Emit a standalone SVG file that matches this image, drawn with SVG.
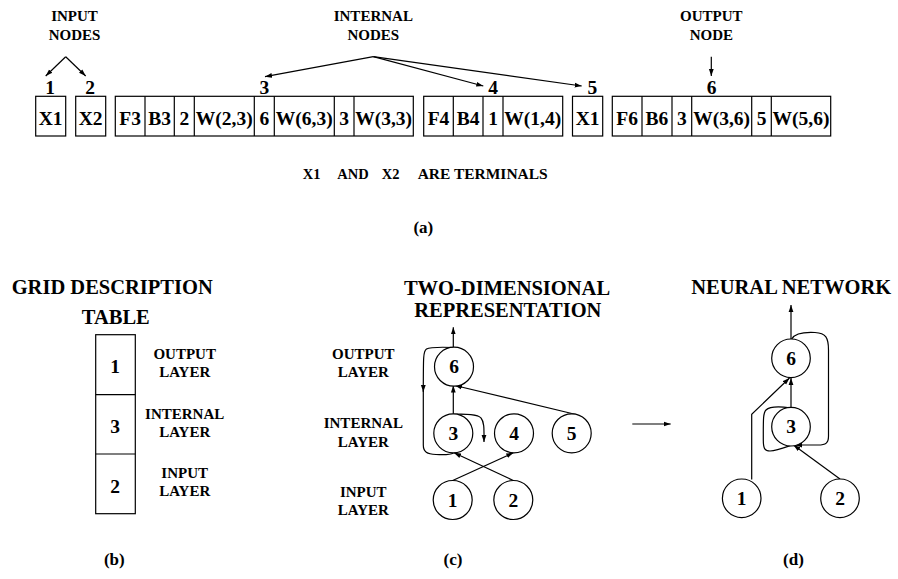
<svg xmlns="http://www.w3.org/2000/svg" width="898" height="579" viewBox="0 0 898 579">
  <style>
    text { font-family: "Liberation Serif", "Times New Roman", serif; font-weight: bold; fill: #000; text-anchor: middle; }
    .cell { font-size: 19.5px; }
    .lbl { font-size: 15px; }
    .head { font-size: 20.5px; }
    .cap { font-size: 17px; }
    .note { font-size: 14.5px; text-anchor: start; }
    rect.box, circle { fill: #fff; stroke: #000; stroke-width: 1.2; }
    line.sep { stroke: #000; stroke-width: 1.2; }
    .wire { fill: none; stroke: #000; stroke-width: 1.2; }
  </style>
  <defs>
    <marker id="ah" markerUnits="userSpaceOnUse" markerWidth="8" markerHeight="6" refX="7" refY="3" orient="auto">
      <path d="M0,0.6 L7,3 L0,5.4 z" fill="#000"/>
    </marker>
  </defs>

  <rect width="898" height="579" fill="#fff"/>

  <!-- (a) linear chromosome encoding -->
  <g id="input-nodes-label">
    <text class="lbl" x="74.5" y="21">INPUT</text>
    <text class="lbl" x="74.5" y="39.5">NODES</text>
  </g>
  <g id="internal-nodes-label">
    <text class="lbl" x="373.3" y="21">INTERNAL</text>
    <text class="lbl" x="373.3" y="39.5">NODES</text>
  </g>
  <g id="output-node-label">
    <text class="lbl" x="711.3" y="21">OUTPUT</text>
    <text class="lbl" x="711.3" y="39.5">NODE</text>
  </g>

  <g id="node-1">
    <text class="cell" x="50" y="94">1</text>
    <rect class="box" x="35.7" y="96.3" width="30" height="39.7"/>
    <text class="cell" x="50.7" y="125">X1</text>
  </g>
  <g id="node-2">
    <text class="cell" x="90" y="94">2</text>
    <rect class="box" x="75.7" y="96.3" width="30" height="39.7"/>
    <text class="cell" x="90.7" y="125">X2</text>
  </g>
  <g id="node-3">
    <text class="cell" x="264.3" y="94">3</text>
    <rect class="box" x="115.3" y="96.3" width="298" height="39.7"/>
    <line class="sep" x1="145" y1="96.3" x2="145" y2="136"/>
    <line class="sep" x1="174.3" y1="96.3" x2="174.3" y2="136"/>
    <line class="sep" x1="194.3" y1="96.3" x2="194.3" y2="136"/>
    <line class="sep" x1="254.3" y1="96.3" x2="254.3" y2="136"/>
    <line class="sep" x1="274.3" y1="96.3" x2="274.3" y2="136"/>
    <line class="sep" x1="334.3" y1="96.3" x2="334.3" y2="136"/>
    <line class="sep" x1="354" y1="96.3" x2="354" y2="136"/>
    <text class="cell" x="130.2" y="125">F3</text>
    <text class="cell" x="159.7" y="125">B3</text>
    <text class="cell" x="184.3" y="125">2</text>
    <text class="cell" x="224.3" y="125">W(2,3)</text>
    <text class="cell" x="264.3" y="125">6</text>
    <text class="cell" x="304.3" y="125">W(6,3)</text>
    <text class="cell" x="344.2" y="125">3</text>
    <text class="cell" x="383.7" y="125">W(3,3)</text>
  </g>
  <g id="node-4">
    <text class="cell" x="493" y="94">4</text>
    <rect class="box" x="423.7" y="96.3" width="139" height="39.7"/>
    <line class="sep" x1="453.3" y1="96.3" x2="453.3" y2="136"/>
    <line class="sep" x1="483" y1="96.3" x2="483" y2="136"/>
    <line class="sep" x1="503" y1="96.3" x2="503" y2="136"/>
    <text class="cell" x="438.5" y="125">F4</text>
    <text class="cell" x="468.2" y="125">B4</text>
    <text class="cell" x="493" y="125">1</text>
    <text class="cell" x="532.8" y="125">W(1,4)</text>
  </g>
  <g id="node-5">
    <text class="cell" x="592.3" y="94">5</text>
    <rect class="box" x="572.5" y="96.3" width="30.2" height="39.7"/>
    <text class="cell" x="587.6" y="125">X1</text>
  </g>
  <g id="node-6">
    <text class="cell" x="711.7" y="94">6</text>
    <rect class="box" x="612.3" y="96.3" width="218.4" height="39.7"/>
    <line class="sep" x1="642" y1="96.3" x2="642" y2="136"/>
    <line class="sep" x1="672" y1="96.3" x2="672" y2="136"/>
    <line class="sep" x1="691.7" y1="96.3" x2="691.7" y2="136"/>
    <line class="sep" x1="751.7" y1="96.3" x2="751.7" y2="136"/>
    <line class="sep" x1="771.3" y1="96.3" x2="771.3" y2="136"/>
    <text class="cell" x="627.2" y="125">F6</text>
    <text class="cell" x="657" y="125">B6</text>
    <text class="cell" x="681.9" y="125">3</text>
    <text class="cell" x="721.7" y="125">W(3,6)</text>
    <text class="cell" x="761.5" y="125">5</text>
    <text class="cell" x="801" y="125">W(5,6)</text>
  </g>

  <g id="label-arrows">
    <line class="wire" x1="65.7" y1="56.7" x2="45.7" y2="76" marker-end="url(#ah)"/>
    <line class="wire" x1="65.7" y1="56.7" x2="85.7" y2="76" marker-end="url(#ah)"/>
    <line class="wire" x1="373.3" y1="56.7" x2="265" y2="76.7" marker-end="url(#ah)"/>
    <line class="wire" x1="373.3" y1="56.7" x2="483.3" y2="86" marker-end="url(#ah)"/>
    <line class="wire" x1="373.3" y1="56.7" x2="581.7" y2="86" marker-end="url(#ah)"/>
    <line class="wire" x1="711.3" y1="56.7" x2="711.3" y2="76" marker-end="url(#ah)"/>
  </g>

  <g id="terminals-note">
    <text class="note" x="302.7" y="179.3">X1</text>
    <text class="note" x="337.3" y="179.3">AND</text>
    <text class="note" x="381.7" y="179.3">X2</text>
    <text class="note" x="417.7" y="179.3" textLength="130" lengthAdjust="spacingAndGlyphs">ARE TERMINALS</text>
  </g>
  <text class="cap" x="423.3" y="233">(a)</text>

  <!-- (b) grid description table -->
  <g id="grid-table">
    <text class="head" x="112.2" y="294">GRID DESCRIPTION</text>
    <text class="head" x="115.8" y="324">TABLE</text>
    <rect class="box" x="95.7" y="334.7" width="39.6" height="179"/>
    <line class="sep" x1="95.7" y1="394.7" x2="135.3" y2="394.7"/>
    <line class="sep" x1="95.7" y1="454" x2="135.3" y2="454"/>
    <text class="cell" x="115" y="372.7">1</text>
    <text class="cell" x="115" y="433">3</text>
    <text class="cell" x="115" y="492.7">2</text>
    <text class="lbl" x="184.7" y="358.7">OUTPUT</text>
    <text class="lbl" x="184.7" y="376.7">LAYER</text>
    <text class="lbl" x="184.7" y="418.7">INTERNAL</text>
    <text class="lbl" x="184.7" y="436.7">LAYER</text>
    <text class="lbl" x="184.7" y="478">INPUT</text>
    <text class="lbl" x="184.7" y="496">LAYER</text>
  </g>
  <text class="cap" x="114.3" y="564.7">(b)</text>

  <!-- (c) two-dimensional representation -->
  <text class="head" x="507" y="295">TWO-DIMENSIONAL</text>
  <text class="head" x="507.8" y="316.7">REPRESENTATION</text>
  <g id="layer-labels-c">
    <text class="lbl" x="363.3" y="359">OUTPUT</text>
    <text class="lbl" x="363.3" y="376.7">LAYER</text>
    <text class="lbl" x="363.3" y="428.3">INTERNAL</text>
    <text class="lbl" x="363.3" y="446.7">LAYER</text>
    <text class="lbl" x="363.3" y="496.7">INPUT</text>
    <text class="lbl" x="363.3" y="515">LAYER</text>
  </g>

  <g id="c-connectors">
    <line class="wire" x1="453.3" y1="347" x2="453.3" y2="327.3" marker-end="url(#ah)"/>
    <line class="wire" x1="453.3" y1="414.5" x2="453.3" y2="385.5" marker-end="url(#ah)"/>
    <line class="wire" x1="576" y1="414.5" x2="455" y2="385.5" marker-end="url(#ah)"/>
    <line class="wire" x1="452.7" y1="480.5" x2="513.3" y2="452.8" marker-end="url(#ah)"/>
    <line class="wire" x1="513.3" y1="480.5" x2="454" y2="452.8" marker-end="url(#ah)"/>
    <!-- 3 feeds back to itself -->
    <path class="wire" d="M453.3,414.3 C466,414 478,414 481,418 C484.5,422 484,430 484,442" marker-end="url(#ah)"/>
    <!-- 6 feeds 3 along the left side -->
    <path class="wire" d="M453.3,347.5 C440,347 430,347 426.5,349 C423.3,351 423.3,356 423.3,392" marker-end="url(#ah)"/>
    <path class="wire" d="M423.3,390 L423.3,445 C423.3,452 427,454 436,454.5 C444,455 450,455 453.5,453"/>
  </g>

  <g id="c-node-6"><circle cx="454" cy="366.7" r="19.5"/><text class="cell" x="454" y="373.3">6</text></g>
  <g id="c-node-3"><circle cx="453.3" cy="433.3" r="19.5"/><text class="cell" x="453.3" y="440">3</text></g>
  <g id="c-node-4"><circle cx="514" cy="433.3" r="19.5"/><text class="cell" x="514" y="440">4</text></g>
  <g id="c-node-5"><circle cx="571.7" cy="433.3" r="19.5"/><text class="cell" x="571.7" y="440">5</text></g>
  <g id="c-node-1"><circle cx="452.7" cy="500" r="19.5"/><text class="cell" x="452.7" y="506.7">1</text></g>
  <g id="c-node-2"><circle cx="513.3" cy="500" r="19.5"/><text class="cell" x="513.3" y="506.7">2</text></g>
  <text class="cap" x="453" y="564.7">(c)</text>

  <!-- transformation arrow -->
  <line class="wire" x1="632.3" y1="424" x2="670.7" y2="424" marker-end="url(#ah)"/>

  <!-- (d) neural network -->
  <text class="head" x="791.2" y="294">NEURAL NETWORK</text>
  <g id="d-connectors">
    <line class="wire" x1="791" y1="339" x2="791" y2="305" marker-end="url(#ah)"/>
    <line class="wire" x1="791" y1="407.5" x2="791" y2="378" marker-end="url(#ah)"/>
    <polyline class="wire" points="751.7,479.5 751.7,414.3 789.5,378" marker-end="url(#ah)"/>
    <line class="wire" x1="840" y1="479" x2="793.5" y2="445" marker-end="url(#ah)"/>
    <!-- 3 feeds back to itself -->
    <path class="wire" d="M790,407.8 C780,406.5 770,406 766,410 C763,413 763.3,420 763.3,440 C763.3,449 765,451 770,451 C777,450.5 786,447 792,445"/>
    <!-- 6 feeds 3 along the right side -->
    <path class="wire" d="M791.7,339 C795,333 805,332 815,332.5 C826,333 828.5,338 828.5,350 L828.5,436 C828.5,443 826,445 818,445 C810,445 802,445 795,445" marker-end="url(#ah)"/>
  </g>
  <g id="d-node-6"><circle cx="791" cy="358.3" r="19.3"/><text class="cell" x="791" y="365">6</text></g>
  <g id="d-node-3"><circle cx="791" cy="426.7" r="19.3"/><text class="cell" x="791" y="433.3">3</text></g>
  <g id="d-node-1"><circle cx="741.7" cy="498.3" r="19.3"/><text class="cell" x="741.7" y="505">1</text></g>
  <g id="d-node-2"><circle cx="840" cy="498.3" r="19.3"/><text class="cell" x="840" y="505">2</text></g>
  <text class="cap" x="793.5" y="564.7">(d)</text>
</svg>
